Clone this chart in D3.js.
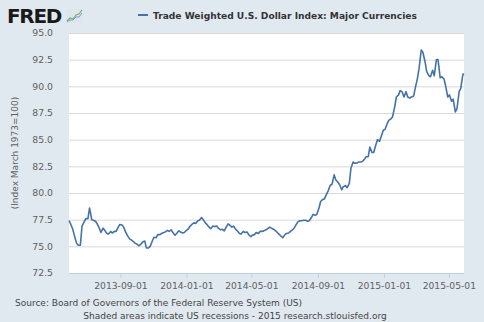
<!DOCTYPE html>
<html><head><meta charset="utf-8">
<script src="https://cdn.jsdelivr.net/npm/d3@7/dist/d3.min.js"></script>
<style>
html,body{margin:0;padding:0;background:#e1e9f0;}
svg{display:block;}
</style></head>
<body>
<svg id="chart" width="484" height="322"></svg>
<script>
const dates = ["2013-05-29","2013-06-01","2013-06-05","2013-06-08","2013-06-12","2013-06-15","2013-06-19","2013-06-22","2013-06-26","2013-06-29",
"2013-07-03","2013-07-06","2013-07-10","2013-07-13","2013-07-17","2013-07-20","2013-07-24","2013-07-27","2013-07-31","2013-08-03",
"2013-08-07","2013-08-10","2013-08-14","2013-08-17","2013-08-21","2013-08-24","2013-08-28","2013-08-31","2013-09-04","2013-09-07",
"2013-09-11","2013-09-14","2013-09-18","2013-09-21","2013-09-25","2013-09-28","2013-10-02","2013-10-05","2013-10-09","2013-10-12",
"2013-10-16","2013-10-19","2013-10-23","2013-10-26","2013-10-30","2013-11-02","2013-11-06","2013-11-09","2013-11-13","2013-11-16",
"2013-11-20","2013-11-23","2013-11-27","2013-11-30","2013-12-04","2013-12-07","2013-12-11","2013-12-14","2013-12-18","2013-12-21",
"2013-12-25","2013-12-28","2014-01-01","2014-01-04","2014-01-08","2014-01-11","2014-01-15","2014-01-18","2014-01-22","2014-01-25",
"2014-01-29","2014-02-01","2014-02-05","2014-02-08","2014-02-12","2014-02-15","2014-02-19","2014-02-22","2014-02-26","2014-03-01",
"2014-03-05","2014-03-08","2014-03-12","2014-03-15","2014-03-19","2014-03-22","2014-03-26","2014-03-29","2014-04-02","2014-04-05",
"2014-04-09","2014-04-12","2014-04-16","2014-04-19","2014-04-23","2014-04-26","2014-04-30","2014-05-03","2014-05-07","2014-05-10",
"2014-05-14","2014-05-17","2014-05-21","2014-05-24","2014-05-28","2014-05-31","2014-06-04","2014-06-07","2014-06-11","2014-06-14",
"2014-06-18","2014-06-21","2014-06-25","2014-06-28","2014-07-02","2014-07-05","2014-07-09","2014-07-12","2014-07-16","2014-07-19",
"2014-07-23","2014-07-26","2014-07-30","2014-08-02","2014-08-06","2014-08-09","2014-08-13","2014-08-16","2014-08-20","2014-08-23",
"2014-08-27","2014-08-30","2014-09-03","2014-09-06","2014-09-10","2014-09-13","2014-09-17","2014-09-20","2014-09-24","2014-09-27",
"2014-10-01","2014-10-04","2014-10-08","2014-10-11","2014-10-15","2014-10-18","2014-10-22","2014-10-25","2014-10-29","2014-11-01",
"2014-11-05","2014-11-08","2014-11-12","2014-11-15","2014-11-19","2014-11-22","2014-11-26","2014-11-29","2014-12-03","2014-12-06",
"2014-12-10","2014-12-13","2014-12-17","2014-12-20","2014-12-24","2014-12-27","2014-12-31","2015-01-03","2015-01-07","2015-01-10",
"2015-01-14","2015-01-17","2015-01-21","2015-01-24","2015-01-28","2015-01-31","2015-02-04","2015-02-07","2015-02-11","2015-02-14",
"2015-02-18","2015-02-21","2015-02-25","2015-02-28","2015-03-04","2015-03-07","2015-03-11","2015-03-14","2015-03-18","2015-03-21",
"2015-03-25","2015-03-28","2015-04-01","2015-04-04","2015-04-08","2015-04-11","2015-04-15","2015-04-18","2015-04-22","2015-04-25",
"2015-04-29","2015-05-02","2015-05-06","2015-05-09","2015-05-13","2015-05-16","2015-05-20","2015-05-23","2015-05-27","2015-05-29"];

const values = [77.4,77.1,76.6,76.0,75.3,75.1,75.1,76.9,77.3,77.6,
77.6,78.6,77.5,77.45,77.35,77.1,76.7,76.3,76.7,76.5,
76.2,76.15,76.4,76.25,76.4,76.4,76.8,77.05,77.0,76.8,
76.3,76.0,75.7,75.6,75.45,75.3,75.2,75.05,75.2,75.4,
75.5,74.85,74.85,75.0,75.5,75.85,75.8,76.1,76.1,76.2,
76.3,76.35,76.5,76.4,76.55,76.3,76.05,76.2,76.45,76.35,
76.25,76.3,76.5,76.6,76.9,77.05,77.2,77.15,77.4,77.45,
77.7,77.5,77.2,77.05,76.8,76.65,76.9,76.85,76.9,76.7,
76.55,76.6,76.45,76.75,77.1,77.0,76.8,76.9,76.6,76.45,
76.2,76.15,76.4,76.3,76.35,76.1,75.9,76.05,76.1,76.3,
76.2,76.4,76.4,76.45,76.55,76.65,76.8,76.7,76.6,76.5,
76.3,76.15,75.95,75.8,76.1,76.2,76.25,76.4,76.55,76.7,
77.05,77.3,77.4,77.4,77.45,77.45,77.35,77.4,77.7,78.0,
77.9,78.0,78.6,79.2,79.4,79.45,79.9,80.2,80.75,80.8,
81.7,81.25,81.0,80.8,80.3,80.6,80.7,80.5,80.9,82.3,
82.9,82.8,82.8,82.9,82.9,82.95,83.15,83.4,83.4,84.3,
83.8,83.8,84.5,85.0,84.85,85.3,85.9,85.95,86.5,86.8,
86.95,87.15,88.1,89.0,89.2,89.6,89.45,89.0,89.5,89.0,
88.9,89.0,89.1,89.85,90.75,91.7,93.4,93.2,92.3,91.4,
91.0,90.9,91.5,91.0,92.5,92.5,90.8,90.9,90.7,90.05,
89.0,89.2,88.6,88.8,87.6,87.9,89.5,89.8,91.15,91.1];

const yTicks = [72.5,75.0,77.5,80.0,82.5,85.0,87.5,90.0,92.5,95.0];
const xTickLabels = ["2013-09-01","2014-01-01","2014-05-01","2014-09-01","2015-01-01","2015-05-01"];
const seriesName = "Trade Weighted U.S. Dollar Index: Major Currencies";
const yAxisTitle = "(Index March 1973=100)";
const sourceText = "Source: Board of Governors of the Federal Reserve System (US)";
const noteText = "Shaded areas indicate US recessions - 2015 research.stlouisfed.org";

const parse = d3.timeParse("%Y-%m-%d");
const data = dates.map((d,i)=>({date:parse(d), value:values[i]}));

const svg = d3.select("#chart");
const L=69, R=464, T=33, B=273;

const x = d3.scaleTime().domain(d3.extent(data,d=>d.date)).range([L,R]);
const y = d3.scaleLinear().domain([72.5,95]).range([B,T]);

// plot background
svg.append("rect").attr("x",L).attr("y",T).attr("width",R-L).attr("height",B-T).attr("fill","#ffffff");

// gridlines
const grid = svg.append("g").attr("transform",`translate(${L},0)`)
  .call(d3.axisLeft(y).tickValues(yTicks).tickSize(-(R-L)).tickFormat(""));
grid.select(".domain").remove();
grid.selectAll("line").attr("stroke","#d8d8d8").attr("stroke-width",1);

// y axis labels
const yAxis = svg.append("g").attr("transform",`translate(${L},0)`)
  .call(d3.axisLeft(y).tickValues(yTicks).tickSize(0).tickPadding(16).tickFormat(d3.format(".1f")));
yAxis.select(".domain").remove();
yAxis.selectAll("text").attr("fill","#606060").style("font-family","DejaVu Sans").style("font-size","9.3px");

// x axis
const xAxis = svg.append("g").attr("transform",`translate(0,${B})`)
  .call(d3.axisBottom(x).tickValues(xTickLabels.map(parse)).tickSize(5).tickPadding(4).tickFormat(d3.timeFormat("%Y-%m-%d")));
xAxis.select(".domain").attr("stroke","#c0d0e0").attr("d",`M${L},0.5H${R}`);
xAxis.selectAll("line").attr("stroke","#c0d0e0");
xAxis.selectAll("text").attr("fill","#606060").style("font-family","DejaVu Sans").style("font-size","9.2px");

// line
const line = d3.line().x(d=>x(d.date)).y(d=>y(d.value));
svg.append("path").datum(data).attr("d",line).attr("fill","none")
  .attr("stroke","#4572a7").attr("stroke-width",1.6).attr("stroke-linejoin","round");

// y axis title
svg.append("text").attr("transform","translate(18,153) rotate(-90)").attr("text-anchor","middle")
  .attr("fill","#606060").style("font-family","DejaVu Sans").style("font-size","9px").text(yAxisTitle);

// legend/title
svg.append("line").attr("x1",138).attr("x2",148).attr("y1",15).attr("y2",15).attr("stroke","#4572a7").attr("stroke-width",2);
svg.append("text").attr("x",153).attr("y",18.5).attr("fill","#333333")
  .style("font-family","DejaVu Sans").style("font-weight","bold").style("font-size","9.1px").text(seriesName);

// FRED logo
svg.append("text").attr("x",7).attr("y",23).attr("fill","#1a1a1a")
  .style("font-family","DejaVu Sans").style("font-weight","bold").style("font-size","20px").style("letter-spacing","-1.3px").text("FRED");
const icon = svg.append("g");
icon.append("rect").attr("x",66).attr("y",9).attr("width",16).attr("height",14).attr("fill","#dfe5ea");
icon.append("polyline").attr("points","67,21 70,18 73,19 76,15 79,14 82,10").attr("fill","none").attr("stroke","#7ab06a").attr("stroke-width",1.2);
icon.append("polyline").attr("points","67,22 70,20 73,20 76,17 79,17 82,13").attr("fill","none").attr("stroke","#6f9fd0").attr("stroke-width",1);

// footer
svg.append("text").attr("x",15).attr("y",305.5).attr("fill","#444444")
  .style("font-family","DejaVu Sans").style("font-size","9px").text(sourceText);
svg.append("text").attr("x",235).attr("y",318.5).attr("text-anchor","middle").attr("fill","#444444")
  .style("font-family","DejaVu Sans").style("font-size","9px").text(noteText);
</script>
</body></html>
